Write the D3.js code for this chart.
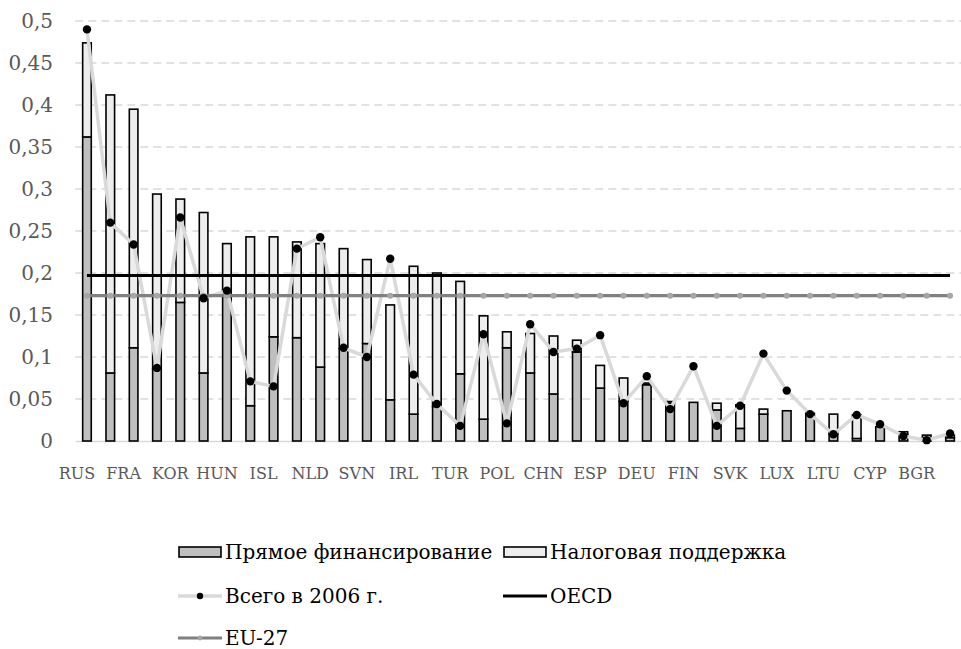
<!DOCTYPE html>
<html>
<head>
<meta charset="utf-8">
<script src="https://cdn.jsdelivr.net/npm/d3@7"></script>
<style>
  html, body { margin: 0; padding: 0; background: #fff; }
  svg text { font-family: "DejaVu Serif", "Liberation Serif", serif; }
</style>
</head>
<body>
<svg id="chart" width="961" height="649"></svg>
<script>
// Country codes along the x axis
const categories = ["RUS","BEL","FRA","PRT","KOR","AUT","HUN","CAN","ISL","GBR",
  "NLD","USA","SVN","JPN","IRL","AUS","TUR","NOR","POL","CZE",
  "CHN","SWE","ESP","ITA","DEU","ISR","FIN","NZL","SVK","CHL",
  "LUX","EST","LTU","DNK","CYP","MEX","BGR","LVA"];

// Direct government funding of business R&D, % of GDP
const directFunding = [0.362,0.081,0.111,0.086,0.165,0.081,0.180,0.042,0.124,0.123,
  0.088,0.110,0.116,0.049,0.032,0.041,0.080,0.026,0.111,0.081,
  0.056,0.106,0.063,0.047,0.067,0.045,0.046,0.037,0.015,0.032,
  0.036,0.033,0.008,0.003,0.017,0.008,0.004,0.004];

// Tax support for business R&D, % of GDP
const taxSupport = [0.112,0.331,0.284,0.208,0.123,0.191,0.055,0.201,0.119,0.114,
  0.147,0.119,0.100,0.113,0.176,0.159,0.110,0.123,0.019,0.047,
  0.069,0.014,0.027,0.028,0.002,0.002,0,0.008,0.028,0.006,
  0,0,0.024,0.028,0,0.003,0.003,0.003];

// Total support in 2006
const total2006 = [0.490,0.260,0.234,0.087,0.266,0.170,0.179,0.071,0.065,0.229,
  0.2425,0.111,0.100,0.217,0.079,0.044,0.018,0.127,0.021,0.139,
  0.106,0.110,0.126,0.045,0.077,0.038,0.089,0.018,0.042,0.104,
  0.060,0.032,0.008,0.031,0.020,0.006,0.001,0.009];

// Reference averages
const oecdAverage = 0.197;
const eu27Average = 0.173;

const yTicks = [0,0.05,0.1,0.15,0.2,0.25,0.3,0.35,0.4,0.45,0.5];

const legendLabels = {
  direct: "Прямое финансирование",
  tax: "Налоговая поддержка",
  total: "Всего в 2006 г.",
  oecd: "OECD",
  eu: "EU-27"
};

const ruLocale = d3.formatLocale({decimal: ",", thousands: " ", grouping: [3], currency: ["", ""]});
const fmt = v => ruLocale.format("~g")(+v.toFixed(2));

const svg = d3.select("#chart");

const x = d3.scaleBand().domain(categories).range([75.3, 961.7]);
const y = d3.scaleLinear().domain([0, 0.5]).range([441, 21]);
const cx = c => x(c) + x.bandwidth() / 2;

// Dashed horizontal gridlines
svg.append("g")
  .selectAll("line")
  .data(yTicks.filter(t => t > 0))
  .join("line")
  .attr("x1", x.range()[0]).attr("x2", x.range()[1])
  .attr("y1", d => y(d)).attr("y2", d => y(d))
  .attr("stroke", "#d9d9d9").attr("stroke-width", 1.3)
  .attr("stroke-dasharray", "8,5");

// Y axis labels
const yAxis = svg.append("g")
  .attr("transform", "translate(61,0)")
  .call(d3.axisLeft(y).tickValues(yTicks).tickSize(0).tickPadding(8).tickFormat(fmt));
yAxis.select(".domain").remove();
yAxis.selectAll("text")
  .attr("fill", "#595959").style("font-size", "20px");

// X axis baseline
const xAxis = svg.append("g")
  .attr("transform", `translate(0,${y(0)})`)
  .call(d3.axisBottom(x).tickValues([]).tickSize(0));
xAxis.select(".domain").attr("stroke", "#d9d9d9").attr("stroke-width", 1.5);

// Every other category label, set below and slightly left of its bar
const labelCats = categories.filter((c, i) => i % 2 === 0);
svg.append("g").selectAll("text.xlabel")
  .data(labelCats).join("text").attr("class", "xlabel")
  .attr("x", c => cx(c) - 10).attr("y", y(0) + 38)
  .attr("text-anchor", "middle")
  .attr("fill", "#595959").style("font-size", "16px")
  .text(c => c);

// Stacked bars
const barW = 8.6;
const rows = categories.map((c, i) => ({c, d: directFunding[i], t: taxSupport[i]}));
const bars = svg.append("g");
bars.selectAll("rect.direct")
  .data(rows).join("rect").attr("class", "direct")
  .attr("x", r => cx(r.c) - barW / 2).attr("width", barW)
  .attr("y", r => y(r.d)).attr("height", r => y(0) - y(r.d))
  .attr("fill", "#bfbfbf").attr("stroke", "#000").attr("stroke-width", 1.6);
bars.selectAll("rect.tax")
  .data(rows.filter(r => r.t > 0)).join("rect").attr("class", "tax")
  .attr("x", r => cx(r.c) - barW / 2).attr("width", barW)
  .attr("y", r => y(r.d + r.t)).attr("height", r => y(r.d) - y(r.d + r.t))
  .attr("fill", "#ededed").attr("stroke", "#000").attr("stroke-width", 1.6);

// 2006 totals line with black markers
const line = d3.line().x(d => cx(d.c)).y(d => y(d.v));
const totals = categories.map((c, i) => ({c, v: total2006[i]}));
svg.append("path").datum(totals).attr("d", line)
  .attr("fill", "none").attr("stroke", "#d9d9d9").attr("stroke-width", 3.5)
  .attr("stroke-linejoin", "round");

// OECD average
const oecdPts = categories.map(c => ({c, v: oecdAverage}));
svg.append("path").datum(oecdPts).attr("d", line)
  .attr("fill", "none").attr("stroke", "#000").attr("stroke-width", 3.2);

// EU-27 average with small markers
const euPts = categories.map(c => ({c, v: eu27Average}));
svg.append("path").datum(euPts).attr("d", line)
  .attr("fill", "none").attr("stroke", "#808080").attr("stroke-width", 3.2);
svg.append("g").selectAll("circle").data(euPts).join("circle")
  .attr("cx", d => cx(d.c)).attr("cy", d => y(d.v)).attr("r", 3)
  .attr("fill", "#a6a6a6");

svg.append("g").selectAll("circle").data(totals).join("circle")
  .attr("cx", d => cx(d.c)).attr("cy", d => y(d.v)).attr("r", 4.2)
  .attr("fill", "#000");

// Legend
const legend = svg.append("g").style("font-size", "20px");
const col1 = 178, col2 = 503, markW = 44;
function legendText(xp, yp, label) {
  legend.append("text").attr("x", xp + markW + 3).attr("y", yp).attr("dy", "0.35em")
    .attr("fill", "#000").text(label);
}
function legendRect(xp, yp, fill) {
  legend.append("rect").attr("x", xp + 1).attr("y", yp - 5).attr("width", markW - 2).attr("height", 10)
    .attr("fill", fill).attr("stroke", "#000").attr("stroke-width", 1.6);
}
legendRect(col1, 552, "#bfbfbf");
legendText(col1, 552, legendLabels.direct);
legendRect(col2, 552, "#ededed");
legendText(col2, 552, legendLabels.tax);

legend.append("line").attr("x1", col1).attr("x2", col1 + markW).attr("y1", 596).attr("y2", 596)
  .attr("stroke", "#d9d9d9").attr("stroke-width", 3.5);
legend.append("circle").attr("cx", col1 + markW / 2).attr("cy", 596).attr("r", 3.2).attr("fill", "#000");
legendText(col1, 596, legendLabels.total);
legend.append("line").attr("x1", col2).attr("x2", col2 + markW).attr("y1", 596).attr("y2", 596)
  .attr("stroke", "#000").attr("stroke-width", 3.2);
legendText(col2, 596, legendLabels.oecd);

legend.append("line").attr("x1", col1).attr("x2", col1 + markW).attr("y1", 638).attr("y2", 638)
  .attr("stroke", "#808080").attr("stroke-width", 3.2);
legend.append("circle").attr("cx", col1 + markW / 2).attr("cy", 638).attr("r", 2.4).attr("fill", "#a6a6a6");
legendText(col1, 638, legendLabels.eu);
</script>
</body>
</html>
